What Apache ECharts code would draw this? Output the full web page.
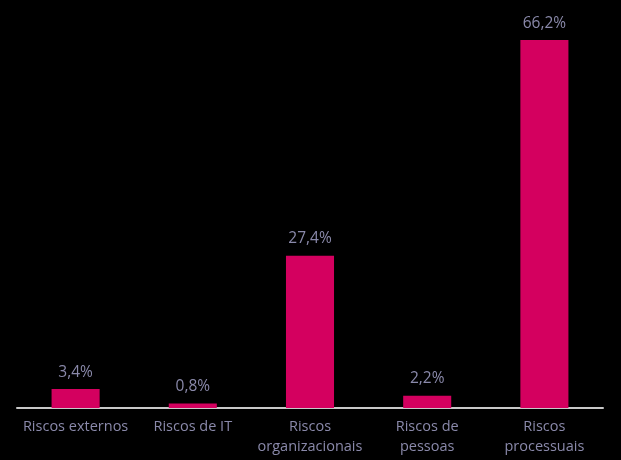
<!DOCTYPE html>
<html>
<head>
<meta charset="utf-8">
<script src="https://cdn.jsdelivr.net/npm/echarts@6/dist/echarts.min.js"></script>
<style>
html,body{margin:0;padding:0;background:#000;}
#c{width:621px;height:460px;}
</style>
</head>
<body>
<div id="c"></div>
<script>
const categories = ["Riscos externos", "Riscos de IT", "Riscos\norganizacionais", "Riscos de\npessoas", "Riscos\nprocessuais"];
const values = [3.4, 0.8, 27.4, 2.2, 66.2];

const chart = echarts.init(document.getElementById('c'));
chart.setOption({
  backgroundColor: '#000000',
  animation: false,
  grid: {left: 17, right: 18, top: 19, bottom: 52},
  xAxis: {
    type: 'category',
    data: categories,
    axisLine: {lineStyle: {color: '#c8c8c8', width: 2}},
    axisTick: {show: false},
    axisLabel: {
      color: '#8a89aa',
      fontFamily: 'Open Sans',
      fontSize: 14.5,
      lineHeight: 20,
      margin: 9,
      interval: 0
    }
  },
  yAxis: {
    type: 'value',
    min: 0,
    max: 70,
    show: false
  },
  series: [{
    type: 'bar',
    data: values,
    barWidth: '41%',
    itemStyle: {color: '#d4005f'},
    label: {
      show: true,
      position: 'top',
      distance: 9,
      color: '#8a89aa',
      fontFamily: 'Open Sans',
      fontSize: 15.5,
      formatter: p => p.value.toFixed(1).replace('.', ',') + '%'
    }
  }]
});
</script>
</body>
</html>
